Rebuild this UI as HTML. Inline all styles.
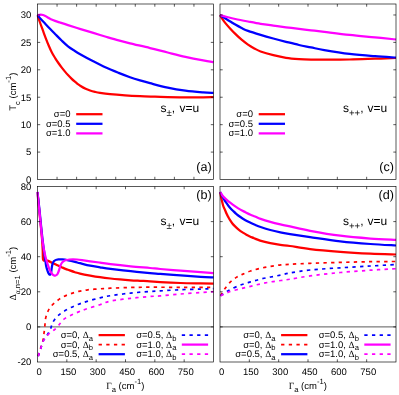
<!DOCTYPE html>
<html><head><meta charset="utf-8"><title>chart</title>
<style>
html,body{margin:0;padding:0;background:#fff;overflow:hidden}
svg{display:block}
text{fill:#000;text-rendering:geometricPrecision;font-family:"Liberation Sans",sans-serif}
</style></head>
<body>
<svg width="399" height="395" viewBox="0 0 399 395">
<rect x="0" y="0" width="399" height="395" fill="#fff"/>
<defs>
<filter id="gs" x="0" y="0" width="399" height="395" filterUnits="userSpaceOnUse" color-interpolation-filters="sRGB"><feColorMatrix type="saturate" values="0"/></filter>
<clipPath id="ca"><rect x="36.5" y="4" width="177.5" height="175.5"/></clipPath>
<clipPath id="cb"><rect x="36.5" y="186.5" width="177.5" height="175.5"/></clipPath>
<clipPath id="cc"><rect x="219" y="4" width="177.5" height="175.5"/></clipPath>
<clipPath id="cd"><rect x="219" y="186.5" width="177.5" height="175.5"/></clipPath>
</defs>
<path d="M37.5,15.1C37.92,16.33 39.13,20.03 40,22.5C40.87,24.97 41.73,27.27 42.7,29.9C43.67,32.53 44.75,35.57 45.8,38.3C46.85,41.03 47.97,43.88 49,46.3C50.03,48.72 50.95,50.8 52,52.8C53.05,54.8 54.23,56.6 55.3,58.3C56.37,60 57.35,61.48 58.4,63C59.45,64.52 60.5,65.97 61.6,67.4C62.7,68.83 63.93,70.33 65,71.6C66.07,72.87 66.92,73.83 68,75C69.08,76.17 70.45,77.57 71.5,78.6C72.55,79.63 73.3,80.33 74.3,81.2C75.3,82.07 76.45,83 77.5,83.8C78.55,84.6 79.25,85.17 80.6,86C81.95,86.83 84.03,88.05 85.6,88.8C87.17,89.55 88.43,89.98 90,90.5C91.57,91.02 93.33,91.5 95,91.9C96.67,92.3 97.5,92.52 100,92.9C102.5,93.28 105.83,93.78 110,94.2C114.17,94.62 120,95.07 125,95.4C130,95.73 135,95.98 140,96.2C145,96.42 150.38,96.55 155,96.7C159.62,96.85 162.63,96.98 167.7,97.1C172.77,97.22 179.48,97.35 185.4,97.4C191.32,97.45 198.52,97.43 203.2,97.4C207.88,97.37 211.78,97.23 213.5,97.2" fill="none" stroke="#ff0000" stroke-width="2.25" stroke-linejoin="round" clip-path="url(#ca)"/>
<path d="M37.5,15.1C38.08,15.78 39.72,17.77 41,19.2C42.28,20.63 43.7,22.1 45.2,23.7C46.7,25.3 48.32,27.05 50,28.8C51.68,30.55 53.37,32.25 55.3,34.2C57.23,36.15 59.48,38.48 61.6,40.5C63.72,42.52 65.88,44.62 68,46.3C70.12,47.98 72.2,49.25 74.3,50.6C76.4,51.95 77.43,52.62 80.6,54.4C83.77,56.18 89.08,59.1 93.3,61.3C97.52,63.5 101.68,65.67 105.9,67.6C110.12,69.53 114.58,71.3 118.6,72.9C122.62,74.5 126.43,75.95 130,77.2C133.57,78.45 136.67,79.4 140,80.4C143.33,81.4 145.38,81.98 150,83.2C154.62,84.42 161.8,86.45 167.7,87.7C173.6,88.95 179.48,89.92 185.4,90.7C191.32,91.48 198.52,92.03 203.2,92.4C207.88,92.77 211.78,92.82 213.5,92.9" fill="none" stroke="#0000ff" stroke-width="2.25" stroke-linejoin="round" clip-path="url(#ca)"/>
<path d="M37.5,15.1C37.75,15.07 38.45,15.02 39,14.95C39.55,14.88 40.13,14.63 40.8,14.65C41.47,14.67 42.17,14.78 43,15.05C43.83,15.32 44.88,15.78 45.8,16.25C46.72,16.72 47.65,17.37 48.5,17.85C49.35,18.33 49.82,18.65 50.9,19.15C51.98,19.65 53.48,20.28 55,20.85C56.52,21.42 57.83,21.83 60,22.55C62.17,23.27 64.57,24.07 68,25.15C71.43,26.23 76.38,27.75 80.6,29.05C84.82,30.35 89.08,31.67 93.3,32.95C97.52,34.23 101.68,35.5 105.9,36.75C110.12,38 114.58,39.34 118.6,40.45C122.62,41.56 124.77,42.14 130,43.41C135.23,44.67 143.72,46.52 150,48.04C156.28,49.55 161.8,51.04 167.7,52.5C173.6,53.96 179.48,55.48 185.4,56.8C191.32,58.12 198.52,59.52 203.2,60.4C207.88,61.28 211.78,61.82 213.5,62.1" fill="none" stroke="#ff00ff" stroke-width="2.25" stroke-linejoin="round" clip-path="url(#ca)"/>
<path d="M220,15.1C220.42,15.78 221.63,17.9 222.5,19.19C223.37,20.48 223.9,21.26 225.2,22.85C226.5,24.44 228.62,26.87 230.3,28.71C231.98,30.55 233.42,32.04 235.3,33.87C237.18,35.7 239.48,37.92 241.6,39.71C243.72,41.5 245.88,43.14 248,44.59C250.12,46.04 252.2,47.26 254.3,48.41C256.4,49.56 257.43,50.36 260.6,51.48C263.77,52.6 269.07,54.09 273.3,55.14C277.53,56.19 281.72,57.14 286,57.8C290.28,58.46 294.83,58.8 299,59.1C303.17,59.4 306.78,59.5 311,59.6C315.22,59.7 317.87,59.72 324.3,59.7C330.73,59.68 341.15,59.67 349.6,59.5C358.05,59.33 367.27,58.95 375,58.7C382.73,58.45 392.5,58.12 396,58" fill="none" stroke="#ff0000" stroke-width="2.25" stroke-linejoin="round" clip-path="url(#cc)"/>
<path d="M220,15.1C220.83,15.63 223.28,17.23 225,18.3C226.72,19.37 228.58,20.45 230.3,21.5C232.02,22.55 233.42,23.52 235.3,24.6C237.18,25.68 239.48,26.95 241.6,28C243.72,29.05 244.83,29.75 248,30.9C251.17,32.05 256.38,33.63 260.6,34.9C264.82,36.17 269.07,37.35 273.3,38.5C277.53,39.65 281.72,40.72 286,41.8C290.28,42.88 294.83,44.07 299,45C303.17,45.93 306.78,46.55 311,47.4C315.22,48.25 317.87,49.02 324.3,50.1C330.73,51.18 341.15,52.88 349.6,53.9C358.05,54.92 367.27,55.6 375,56.2C382.73,56.8 392.5,57.28 396,57.5" fill="none" stroke="#0000ff" stroke-width="2.25" stroke-linejoin="round" clip-path="url(#cc)"/>
<path d="M220,15.1C221.17,15.42 224.45,16.35 227,17C229.55,17.65 231.8,18.25 235.3,19C238.8,19.75 243.78,20.7 248,21.5C252.22,22.3 256.38,23.12 260.6,23.8C264.82,24.48 269.07,25.02 273.3,25.6C277.53,26.18 281.72,26.75 286,27.3C290.28,27.85 294.83,28.4 299,28.9C303.17,29.4 306.78,29.8 311,30.3C315.22,30.8 317.87,31.13 324.3,31.9C330.73,32.67 341.15,33.98 349.6,34.9C358.05,35.82 367.27,36.63 375,37.4C382.73,38.17 392.5,39.15 396,39.5" fill="none" stroke="#ff00ff" stroke-width="2.25" stroke-linejoin="round" clip-path="url(#cc)"/>
<line x1="37.5" y1="326.9" x2="213.5" y2="326.9" stroke="#000" stroke-width="0.65"/>
<line x1="220" y1="326.9" x2="396" y2="326.9" stroke="#000" stroke-width="0.65"/>
<path d="M37.4,192C37.53,193.33 37.9,197 38.2,200C38.5,203 38.87,206.67 39.2,210C39.53,213.33 39.87,216.67 40.2,220C40.53,223.33 40.88,226.67 41.2,230C41.52,233.33 41.85,236.67 42.1,240C42.35,243.33 42.53,246.72 42.7,250C42.87,253.28 42.63,258 43.1,259.7C43.57,261.4 44.65,260 45.5,260.2C46.35,260.4 46.57,260.22 48.2,260.9C49.83,261.58 53.07,263.25 55.3,264.3C57.53,265.35 59.92,266.43 61.6,267.2C63.28,267.97 64.33,268.47 65.4,268.9C66.47,269.33 66.4,269.25 68,269.8C69.6,270.35 73,271.57 75,272.2C77,272.83 77.47,273.03 80,273.6C82.53,274.17 86.87,275 90.2,275.6C93.53,276.2 96.62,276.72 100,277.2C103.38,277.68 107.17,278.13 110.5,278.5C113.83,278.87 116.63,279.11 120,279.4C123.37,279.69 127.37,280.02 130.7,280.26C134.03,280.5 136.78,280.63 140,280.81C143.22,280.99 146.63,281.14 150,281.36C153.37,281.58 155.12,281.85 160.2,282.12C165.28,282.39 173.75,282.79 180.5,283C187.25,283.21 195.2,283.3 200.7,283.4C206.2,283.5 211.37,283.57 213.5,283.6" fill="none" stroke="#ff0000" stroke-width="2.25" stroke-linejoin="round" clip-path="url(#cb)"/>
<path d="M38.2,356.1C38.55,354.92 39.55,351.42 40.3,349C41.05,346.58 42.1,344.1 42.7,341.6C43.3,339.1 43.55,336.52 43.9,334C44.25,331.48 44.53,329 44.8,326.5C45.07,324 45.03,321.42 45.5,319C45.97,316.58 46.63,314.17 47.6,312C48.57,309.83 49.67,307.9 51.3,306C52.93,304.1 55.38,302.15 57.4,300.6C59.42,299.05 61.13,297.87 63.4,296.7C65.67,295.53 68.47,294.48 71,293.6C73.53,292.72 75.8,292.03 78.6,291.4C81.4,290.77 84.23,290.23 87.8,289.8C91.37,289.37 96.22,289.07 100,288.8C103.78,288.53 105.38,288.42 110.5,288.2C115.62,287.98 124.12,287.64 130.7,287.47C137.28,287.3 141.7,287.21 150,287.19C158.3,287.17 169.92,287.32 180.5,287.35C191.08,287.38 208,287.35 213.5,287.35" fill="none" stroke="#ff0000" stroke-width="1.7" stroke-linejoin="round" stroke-dasharray="3.3 4.28" clip-path="url(#cb)"/>
<path d="M37.4,192C37.57,193.33 38.05,197 38.4,200C38.75,203 39.15,206.67 39.5,210C39.85,213.33 40.17,216.67 40.5,220C40.83,223.33 41.15,226.67 41.5,230C41.85,233.33 42.2,236.67 42.6,240C43,243.33 43.45,246.67 43.9,250C44.35,253.33 44.92,257.28 45.3,260C45.68,262.72 45.8,264.4 46.2,266.3C46.6,268.2 47.23,270.12 47.7,271.4C48.17,272.68 48.58,273.45 49,274C49.42,274.55 49.87,274.83 50.2,274.7C50.53,274.57 50.78,274.02 51,273.2C51.22,272.38 51.33,270.97 51.5,269.8C51.67,268.63 51.8,267.28 52,266.2C52.2,265.12 52.43,264.07 52.7,263.3C52.97,262.53 53.27,262.05 53.6,261.6C53.93,261.15 54.22,260.9 54.7,260.6C55.18,260.3 55.9,260 56.5,259.8C57.1,259.6 57.33,259.47 58.3,259.4C59.27,259.33 60.62,259.23 62.3,259.4C63.98,259.57 66.28,259.98 68.4,260.4C70.52,260.82 73.07,261.43 75,261.9C76.93,262.37 77.47,262.57 80,263.2C82.53,263.83 86.87,265.02 90.2,265.7C93.53,266.38 96.62,266.78 100,267.3C103.38,267.82 105.38,268.18 110.5,268.82C115.62,269.46 124.12,270.44 130.7,271.15C137.28,271.85 145.08,272.6 150,273.05C154.92,273.5 155.12,273.45 160.2,273.85C165.28,274.25 173.75,274.95 180.5,275.45C187.25,275.95 195.2,276.52 200.7,276.85C206.2,277.18 211.37,277.35 213.5,277.45" fill="none" stroke="#0000ff" stroke-width="2.25" stroke-linejoin="round" clip-path="url(#cb)"/>
<path d="M38.2,356.1C38.63,354.83 39.95,351.02 40.8,348.5C41.65,345.98 42.25,343.2 43.3,341C44.35,338.8 45.9,337.3 47.1,335.3C48.3,333.3 49.55,331.15 50.5,329C51.45,326.85 51.65,324.5 52.8,322.4C53.95,320.3 55.63,318.18 57.4,316.4C59.17,314.62 61.13,313.18 63.4,311.7C65.67,310.22 68.47,308.75 71,307.5C73.53,306.25 75.93,305.22 78.6,304.2C81.27,303.18 83.43,302.47 87,301.4C90.57,300.33 96.08,298.75 100,297.8C103.92,296.85 105.38,296.48 110.5,295.7C115.62,294.92 124.12,293.81 130.7,293.1C137.28,292.4 145.08,291.84 150,291.47C154.92,291.1 155.12,291.19 160.2,290.9C165.28,290.6 173.75,290 180.5,289.7C187.25,289.4 195.2,289.27 200.7,289.1C206.2,288.93 211.37,288.77 213.5,288.7" fill="none" stroke="#0000ff" stroke-width="1.7" stroke-linejoin="round" stroke-dasharray="3.3 4.28" clip-path="url(#cb)"/>
<path d="M37.4,192C37.53,193.33 37.88,197 38.2,200C38.52,203 38.95,206.67 39.3,210C39.65,213.33 39.97,216.67 40.3,220C40.63,223.33 40.95,226.67 41.3,230C41.65,233.33 41.95,236.67 42.4,240C42.85,243.33 43.35,246.67 44,250C44.65,253.33 45.45,256.93 46.3,260C47.15,263.07 48.37,266.43 49.1,268.4C49.83,270.37 50.18,270.88 50.7,271.8C51.22,272.72 51.7,273.33 52.2,273.9C52.7,274.47 53.18,274.92 53.7,275.2C54.22,275.48 54.82,275.63 55.3,275.6C55.78,275.57 56.18,275.35 56.6,275C57.02,274.65 57.47,274.08 57.8,273.5C58.13,272.92 58.35,272.18 58.6,271.5C58.85,270.82 59.07,270.15 59.3,269.4C59.53,268.65 59.75,267.77 60,267C60.25,266.23 60.5,265.47 60.8,264.8C61.1,264.13 61.47,263.5 61.8,263C62.13,262.5 62.2,262.25 62.8,261.8C63.4,261.35 64.3,260.68 65.4,260.3C66.5,259.92 68.13,259.67 69.4,259.5C70.67,259.33 71.73,259.3 73,259.3C74.27,259.3 75.5,259.37 77,259.5C78.5,259.63 79.8,259.8 82,260.1C84.2,260.4 87.2,260.88 90.2,261.3C93.2,261.72 96.62,262.13 100,262.6C103.38,263.07 105.38,263.49 110.5,264.11C115.62,264.73 124.12,265.66 130.7,266.31C137.28,266.96 145.08,267.55 150,268C154.92,268.45 155.12,268.55 160.2,269C165.28,269.45 173.75,270.18 180.5,270.7C187.25,271.22 195.2,271.7 200.7,272.1C206.2,272.5 211.37,272.93 213.5,273.1" fill="none" stroke="#ff00ff" stroke-width="2.25" stroke-linejoin="round" clip-path="url(#cb)"/>
<path d="M38.2,356.1C38.63,354.83 39.95,351.02 40.8,348.5C41.65,345.98 42.03,343.35 43.3,341C44.57,338.65 46.6,336.23 48.4,334.4C50.2,332.57 52.4,331.5 54.1,330C55.8,328.5 57.05,327.13 58.6,325.4C60.15,323.67 61.33,321.28 63.4,319.6C65.47,317.92 68.47,316.58 71,315.3C73.53,314.02 76.07,312.95 78.6,311.9C81.13,310.85 82.63,310.2 86.2,309C89.77,307.8 95.95,306.02 100,304.7C104.05,303.38 105.38,302.17 110.5,301.1C115.62,300.03 124.12,299.07 130.7,298.3C137.28,297.53 145.08,296.9 150,296.5C154.92,296.1 155.12,296.32 160.2,295.9C165.28,295.48 173.75,294.55 180.5,294C187.25,293.45 195.2,293 200.7,292.6C206.2,292.2 211.37,291.77 213.5,291.6" fill="none" stroke="#ff00ff" stroke-width="1.7" stroke-linejoin="round" stroke-dasharray="3.3 4.28" clip-path="url(#cb)"/>
<path d="M220.1,192.1C220.25,192.83 220.7,195.05 221,196.5C221.3,197.95 221.58,199.43 221.9,200.8C222.22,202.17 222.57,203.57 222.9,204.7C223.23,205.83 223.55,206.72 223.9,207.6C224.25,208.48 224.55,208.97 225,210C225.45,211.03 226.07,212.65 226.6,213.8C227.13,214.95 227.7,215.97 228.2,216.9C228.7,217.83 228.93,218.35 229.6,219.4C230.27,220.45 231.37,222.12 232.2,223.2C233.03,224.28 233.77,225.03 234.6,225.9C235.43,226.77 236.27,227.58 237.2,228.4C238.13,229.22 239.17,230.05 240.2,230.8C241.23,231.55 242.37,232.25 243.4,232.9C244.43,233.55 245.4,234.15 246.4,234.7C247.4,235.25 248.47,235.75 249.4,236.2C250.33,236.65 251.07,237 252,237.4C252.93,237.8 253.65,238.07 255,238.6C256.35,239.13 257.55,239.85 260.1,240.6C262.65,241.35 266.92,242.4 270.3,243.1C273.68,243.8 277.12,244.32 280.4,244.8C283.68,245.28 285.05,245.28 290,246C294.95,246.72 301.72,248.13 310.1,249.1C318.48,250.07 330.25,251.05 340.3,251.8C350.35,252.55 361.12,253.15 370.4,253.6C379.68,254.05 391.73,254.35 396,254.5" fill="none" stroke="#ff0000" stroke-width="2.25" stroke-linejoin="round" clip-path="url(#cd)"/>
<path d="M220.5,295.7C221.12,294.68 222.58,291.87 224.2,289.6C225.82,287.33 228.18,284.13 230.2,282.1C232.22,280.07 234.27,278.68 236.3,277.4C238.33,276.12 240.03,275.47 242.4,274.4C244.77,273.33 247.47,272.02 250.5,271C253.53,269.98 257.23,269.08 260.6,268.3C263.97,267.52 267.32,266.87 270.7,266.3C274.08,265.73 277.68,265.23 280.9,264.9C284.12,264.57 285.13,264.57 290,264.3C294.87,264.03 301.72,263.62 310.1,263.3C318.48,262.98 330.25,262.67 340.3,262.4C350.35,262.13 361.12,261.85 370.4,261.7C379.68,261.55 391.73,261.53 396,261.5" fill="none" stroke="#ff0000" stroke-width="1.7" stroke-linejoin="round" stroke-dasharray="3.3 4.28" clip-path="url(#cd)"/>
<path d="M220.1,192.1C220.42,192.7 221.32,194.45 222,195.7C222.68,196.95 223.53,198.48 224.2,199.6C224.87,200.72 225.33,201.42 226,202.4C226.67,203.38 227.5,204.58 228.2,205.5C228.9,206.42 229.37,206.98 230.2,207.9C231.03,208.82 232.2,210.02 233.2,211C234.2,211.98 235,212.8 236.2,213.8C237.4,214.8 238.87,215.93 240.4,217C241.93,218.07 243.72,219.23 245.4,220.2C247.08,221.17 248.9,222.03 250.5,222.8C252.1,223.57 253.32,224.1 255,224.8C256.68,225.5 258.05,226.13 260.6,227C263.15,227.87 267,229.12 270.3,230C273.6,230.88 277.12,231.62 280.4,232.3C283.68,232.98 285.05,233.3 290,234.1C294.95,234.9 301.72,235.9 310.1,237.1C318.48,238.3 330.25,240.15 340.3,241.3C350.35,242.45 361.12,243.3 370.4,244C379.68,244.7 391.73,245.25 396,245.5" fill="none" stroke="#0000ff" stroke-width="2.25" stroke-linejoin="round" clip-path="url(#cd)"/>
<path d="M220.5,295.7C221.25,295.22 223.38,293.82 225,292.8C226.62,291.78 227.63,290.88 230.2,289.6C232.77,288.32 237.02,286.38 240.4,285.1C243.78,283.82 247.13,282.9 250.5,281.9C253.87,280.9 257.23,279.92 260.6,279.1C263.97,278.28 267.32,277.68 270.7,277C274.08,276.32 277.68,275.67 280.9,275C284.12,274.33 285.13,273.84 290,273C294.87,272.16 301.72,270.85 310.1,269.98C318.48,269.11 330.25,268.46 340.3,267.8C350.35,267.14 361.12,266.55 370.4,266C379.68,265.45 391.73,264.75 396,264.5" fill="none" stroke="#0000ff" stroke-width="1.7" stroke-linejoin="round" stroke-dasharray="3.3 4.28" clip-path="url(#cd)"/>
<path d="M220.1,192.1C220.58,192.78 221.98,195 223,196.2C224.02,197.4 225,198.22 226.2,199.3C227.4,200.38 228.68,201.52 230.2,202.7C231.72,203.88 233.6,205.25 235.3,206.4C237,207.55 238.72,208.63 240.4,209.6C242.08,210.57 243.72,211.35 245.4,212.2C247.08,213.05 248.9,213.98 250.5,214.7C252.1,215.42 253.32,215.8 255,216.5C256.68,217.2 258.05,218 260.6,218.9C263.15,219.8 267,220.98 270.3,221.9C273.6,222.82 277.12,223.65 280.4,224.4C283.68,225.15 285.05,225.33 290,226.4C294.95,227.47 301.72,229.25 310.1,230.8C318.48,232.35 330.25,234.41 340.3,235.7C350.35,236.99 361.12,237.84 370.4,238.53C379.68,239.22 391.73,239.61 396,239.83" fill="none" stroke="#ff00ff" stroke-width="2.25" stroke-linejoin="round" clip-path="url(#cd)"/>
<path d="M220.5,295.71C221.25,295.38 223.38,294.45 225,293.75C226.62,293.05 227.63,292.33 230.2,291.51C232.77,290.69 237.02,289.67 240.4,288.8C243.78,287.93 247.13,287.12 250.5,286.3C253.87,285.48 257.23,284.63 260.6,283.9C263.97,283.17 267.32,282.47 270.7,281.9C274.08,281.33 277.68,280.95 280.9,280.5C284.12,280.05 285.13,279.96 290,279.2C294.87,278.44 301.72,277.05 310.1,275.93C318.48,274.81 330.25,273.45 340.3,272.5C350.35,271.55 361.12,270.83 370.4,270.2C379.68,269.57 391.73,268.95 396,268.7" fill="none" stroke="#ff00ff" stroke-width="1.7" stroke-linejoin="round" stroke-dasharray="3.3 4.28" clip-path="url(#cd)"/>
<g shape-rendering="auto">
<rect x="37.5" y="4" width="176" height="175.5" fill="none" stroke="#000" stroke-width="0.65"/>
<rect x="220" y="4" width="176" height="175.5" fill="none" stroke="#000" stroke-width="0.65"/>
<rect x="37.5" y="186.5" width="176" height="175.5" fill="none" stroke="#000" stroke-width="0.65"/>
<rect x="220" y="186.5" width="176" height="175.5" fill="none" stroke="#000" stroke-width="0.65"/>
<line x1="57.06" y1="179.5" x2="57.06" y2="176.8" stroke="#000" stroke-width="0.65"/>
<line x1="57.06" y1="4" x2="57.06" y2="6.7" stroke="#000" stroke-width="0.65"/>
<line x1="76.61" y1="179.5" x2="76.61" y2="176.8" stroke="#000" stroke-width="0.65"/>
<line x1="76.61" y1="4" x2="76.61" y2="6.7" stroke="#000" stroke-width="0.65"/>
<line x1="96.17" y1="179.5" x2="96.17" y2="176.8" stroke="#000" stroke-width="0.65"/>
<line x1="96.17" y1="4" x2="96.17" y2="6.7" stroke="#000" stroke-width="0.65"/>
<line x1="115.72" y1="179.5" x2="115.72" y2="176.8" stroke="#000" stroke-width="0.65"/>
<line x1="115.72" y1="4" x2="115.72" y2="6.7" stroke="#000" stroke-width="0.65"/>
<line x1="135.28" y1="179.5" x2="135.28" y2="176.8" stroke="#000" stroke-width="0.65"/>
<line x1="135.28" y1="4" x2="135.28" y2="6.7" stroke="#000" stroke-width="0.65"/>
<line x1="154.83" y1="179.5" x2="154.83" y2="176.8" stroke="#000" stroke-width="0.65"/>
<line x1="154.83" y1="4" x2="154.83" y2="6.7" stroke="#000" stroke-width="0.65"/>
<line x1="174.39" y1="179.5" x2="174.39" y2="176.8" stroke="#000" stroke-width="0.65"/>
<line x1="174.39" y1="4" x2="174.39" y2="6.7" stroke="#000" stroke-width="0.65"/>
<line x1="193.94" y1="179.5" x2="193.94" y2="176.8" stroke="#000" stroke-width="0.65"/>
<line x1="193.94" y1="4" x2="193.94" y2="6.7" stroke="#000" stroke-width="0.65"/>
<line x1="249.33" y1="179.5" x2="249.33" y2="176.8" stroke="#000" stroke-width="0.65"/>
<line x1="249.33" y1="4" x2="249.33" y2="6.7" stroke="#000" stroke-width="0.65"/>
<line x1="278.67" y1="179.5" x2="278.67" y2="176.8" stroke="#000" stroke-width="0.65"/>
<line x1="278.67" y1="4" x2="278.67" y2="6.7" stroke="#000" stroke-width="0.65"/>
<line x1="308" y1="179.5" x2="308" y2="176.8" stroke="#000" stroke-width="0.65"/>
<line x1="308" y1="4" x2="308" y2="6.7" stroke="#000" stroke-width="0.65"/>
<line x1="337.33" y1="179.5" x2="337.33" y2="176.8" stroke="#000" stroke-width="0.65"/>
<line x1="337.33" y1="4" x2="337.33" y2="6.7" stroke="#000" stroke-width="0.65"/>
<line x1="366.67" y1="179.5" x2="366.67" y2="176.8" stroke="#000" stroke-width="0.65"/>
<line x1="366.67" y1="4" x2="366.67" y2="6.7" stroke="#000" stroke-width="0.65"/>
<line x1="66.83" y1="362" x2="66.83" y2="359.3" stroke="#000" stroke-width="0.65"/>
<line x1="66.83" y1="186.5" x2="66.83" y2="189.2" stroke="#000" stroke-width="0.65"/>
<line x1="96.17" y1="362" x2="96.17" y2="359.3" stroke="#000" stroke-width="0.65"/>
<line x1="96.17" y1="186.5" x2="96.17" y2="189.2" stroke="#000" stroke-width="0.65"/>
<line x1="125.5" y1="362" x2="125.5" y2="359.3" stroke="#000" stroke-width="0.65"/>
<line x1="125.5" y1="186.5" x2="125.5" y2="189.2" stroke="#000" stroke-width="0.65"/>
<line x1="154.83" y1="362" x2="154.83" y2="359.3" stroke="#000" stroke-width="0.65"/>
<line x1="154.83" y1="186.5" x2="154.83" y2="189.2" stroke="#000" stroke-width="0.65"/>
<line x1="184.17" y1="362" x2="184.17" y2="359.3" stroke="#000" stroke-width="0.65"/>
<line x1="184.17" y1="186.5" x2="184.17" y2="189.2" stroke="#000" stroke-width="0.65"/>
<line x1="249.33" y1="362" x2="249.33" y2="359.3" stroke="#000" stroke-width="0.65"/>
<line x1="249.33" y1="186.5" x2="249.33" y2="189.2" stroke="#000" stroke-width="0.65"/>
<line x1="278.67" y1="362" x2="278.67" y2="359.3" stroke="#000" stroke-width="0.65"/>
<line x1="278.67" y1="186.5" x2="278.67" y2="189.2" stroke="#000" stroke-width="0.65"/>
<line x1="308" y1="362" x2="308" y2="359.3" stroke="#000" stroke-width="0.65"/>
<line x1="308" y1="186.5" x2="308" y2="189.2" stroke="#000" stroke-width="0.65"/>
<line x1="337.33" y1="362" x2="337.33" y2="359.3" stroke="#000" stroke-width="0.65"/>
<line x1="337.33" y1="186.5" x2="337.33" y2="189.2" stroke="#000" stroke-width="0.65"/>
<line x1="366.67" y1="362" x2="366.67" y2="359.3" stroke="#000" stroke-width="0.65"/>
<line x1="366.67" y1="186.5" x2="366.67" y2="189.2" stroke="#000" stroke-width="0.65"/>
<line x1="37.5" y1="152.08" x2="40.2" y2="152.08" stroke="#000" stroke-width="0.65"/>
<line x1="213.5" y1="152.08" x2="210.8" y2="152.08" stroke="#000" stroke-width="0.65"/>
<line x1="37.5" y1="124.66" x2="40.2" y2="124.66" stroke="#000" stroke-width="0.65"/>
<line x1="213.5" y1="124.66" x2="210.8" y2="124.66" stroke="#000" stroke-width="0.65"/>
<line x1="37.5" y1="97.23" x2="40.2" y2="97.23" stroke="#000" stroke-width="0.65"/>
<line x1="213.5" y1="97.23" x2="210.8" y2="97.23" stroke="#000" stroke-width="0.65"/>
<line x1="37.5" y1="69.81" x2="40.2" y2="69.81" stroke="#000" stroke-width="0.65"/>
<line x1="213.5" y1="69.81" x2="210.8" y2="69.81" stroke="#000" stroke-width="0.65"/>
<line x1="37.5" y1="42.39" x2="40.2" y2="42.39" stroke="#000" stroke-width="0.65"/>
<line x1="213.5" y1="42.39" x2="210.8" y2="42.39" stroke="#000" stroke-width="0.65"/>
<line x1="37.5" y1="14.97" x2="40.2" y2="14.97" stroke="#000" stroke-width="0.65"/>
<line x1="213.5" y1="14.97" x2="210.8" y2="14.97" stroke="#000" stroke-width="0.65"/>
<line x1="220" y1="152.08" x2="222.7" y2="152.08" stroke="#000" stroke-width="0.65"/>
<line x1="396" y1="152.08" x2="393.3" y2="152.08" stroke="#000" stroke-width="0.65"/>
<line x1="220" y1="124.66" x2="222.7" y2="124.66" stroke="#000" stroke-width="0.65"/>
<line x1="396" y1="124.66" x2="393.3" y2="124.66" stroke="#000" stroke-width="0.65"/>
<line x1="220" y1="97.23" x2="222.7" y2="97.23" stroke="#000" stroke-width="0.65"/>
<line x1="396" y1="97.23" x2="393.3" y2="97.23" stroke="#000" stroke-width="0.65"/>
<line x1="220" y1="69.81" x2="222.7" y2="69.81" stroke="#000" stroke-width="0.65"/>
<line x1="396" y1="69.81" x2="393.3" y2="69.81" stroke="#000" stroke-width="0.65"/>
<line x1="220" y1="42.39" x2="222.7" y2="42.39" stroke="#000" stroke-width="0.65"/>
<line x1="396" y1="42.39" x2="393.3" y2="42.39" stroke="#000" stroke-width="0.65"/>
<line x1="220" y1="14.97" x2="222.7" y2="14.97" stroke="#000" stroke-width="0.65"/>
<line x1="396" y1="14.97" x2="393.3" y2="14.97" stroke="#000" stroke-width="0.65"/>
<line x1="37.5" y1="326.9" x2="40.2" y2="326.9" stroke="#000" stroke-width="0.65"/>
<line x1="213.5" y1="326.9" x2="210.8" y2="326.9" stroke="#000" stroke-width="0.65"/>
<line x1="37.5" y1="291.8" x2="40.2" y2="291.8" stroke="#000" stroke-width="0.65"/>
<line x1="213.5" y1="291.8" x2="210.8" y2="291.8" stroke="#000" stroke-width="0.65"/>
<line x1="37.5" y1="256.7" x2="40.2" y2="256.7" stroke="#000" stroke-width="0.65"/>
<line x1="213.5" y1="256.7" x2="210.8" y2="256.7" stroke="#000" stroke-width="0.65"/>
<line x1="37.5" y1="221.6" x2="40.2" y2="221.6" stroke="#000" stroke-width="0.65"/>
<line x1="213.5" y1="221.6" x2="210.8" y2="221.6" stroke="#000" stroke-width="0.65"/>
<line x1="220" y1="326.9" x2="222.7" y2="326.9" stroke="#000" stroke-width="0.65"/>
<line x1="396" y1="326.9" x2="393.3" y2="326.9" stroke="#000" stroke-width="0.65"/>
<line x1="220" y1="291.8" x2="222.7" y2="291.8" stroke="#000" stroke-width="0.65"/>
<line x1="396" y1="291.8" x2="393.3" y2="291.8" stroke="#000" stroke-width="0.65"/>
<line x1="220" y1="256.7" x2="222.7" y2="256.7" stroke="#000" stroke-width="0.65"/>
<line x1="396" y1="256.7" x2="393.3" y2="256.7" stroke="#000" stroke-width="0.65"/>
<line x1="220" y1="221.6" x2="222.7" y2="221.6" stroke="#000" stroke-width="0.65"/>
<line x1="396" y1="221.6" x2="393.3" y2="221.6" stroke="#000" stroke-width="0.65"/>
</g>
<g filter="url(#gs)">
<text x="31.3" y="182.8" font-size="9.5" text-anchor="end" font-family="Liberation Sans">0</text>
<text x="31.3" y="155.38" font-size="9.5" text-anchor="end" font-family="Liberation Sans">5</text>
<text x="31.3" y="127.96" font-size="9.5" text-anchor="end" font-family="Liberation Sans">10</text>
<text x="31.3" y="100.53" font-size="9.5" text-anchor="end" font-family="Liberation Sans">15</text>
<text x="31.3" y="73.11" font-size="9.5" text-anchor="end" font-family="Liberation Sans">20</text>
<text x="31.3" y="45.69" font-size="9.5" text-anchor="end" font-family="Liberation Sans">25</text>
<text x="31.3" y="18.27" font-size="9.5" text-anchor="end" font-family="Liberation Sans">30</text>
<text x="31.3" y="365.3" font-size="9.5" text-anchor="end" font-family="Liberation Sans">-20</text>
<text x="31.3" y="330.2" font-size="9.5" text-anchor="end" font-family="Liberation Sans">0</text>
<text x="31.3" y="295.1" font-size="9.5" text-anchor="end" font-family="Liberation Sans">20</text>
<text x="31.3" y="260" font-size="9.5" text-anchor="end" font-family="Liberation Sans">40</text>
<text x="31.3" y="224.9" font-size="9.5" text-anchor="end" font-family="Liberation Sans">60</text>
<text x="31.3" y="189.8" font-size="9.5" text-anchor="end" font-family="Liberation Sans">80</text>
<text x="39.1" y="375" font-size="9.5" text-anchor="middle" font-family="Liberation Sans">0</text>
<text x="68.43" y="375" font-size="9.5" text-anchor="middle" font-family="Liberation Sans">150</text>
<text x="97.77" y="375" font-size="9.5" text-anchor="middle" font-family="Liberation Sans">300</text>
<text x="127.1" y="375" font-size="9.5" text-anchor="middle" font-family="Liberation Sans">450</text>
<text x="156.43" y="375" font-size="9.5" text-anchor="middle" font-family="Liberation Sans">600</text>
<text x="185.77" y="375" font-size="9.5" text-anchor="middle" font-family="Liberation Sans">750</text>
<text x="221.6" y="375" font-size="9.5" text-anchor="middle" font-family="Liberation Sans">0</text>
<text x="250.93" y="375" font-size="9.5" text-anchor="middle" font-family="Liberation Sans">150</text>
<text x="280.27" y="375" font-size="9.5" text-anchor="middle" font-family="Liberation Sans">300</text>
<text x="309.6" y="375" font-size="9.5" text-anchor="middle" font-family="Liberation Sans">450</text>
<text x="338.93" y="375" font-size="9.5" text-anchor="middle" font-family="Liberation Sans">600</text>
<text x="368.27" y="375" font-size="9.5" text-anchor="middle" font-family="Liberation Sans">750</text>
<text x="125.3" y="389.1" font-size="9.5" text-anchor="middle" font-family="Liberation Sans"><tspan font-family="Liberation Serif">&#915;</tspan><tspan font-size="7.6" dy="3.2">a</tspan><tspan dy="-3.2"> (cm</tspan><tspan font-size="7.6" dy="-4.7">-1</tspan><tspan dy="4.7">)</tspan></text>
<text x="307.8" y="389.1" font-size="9.5" text-anchor="middle" font-family="Liberation Sans"><tspan font-family="Liberation Serif">&#915;</tspan><tspan font-size="7.6" dy="3.2">a</tspan><tspan dy="-3.2"> (cm</tspan><tspan font-size="7.6" dy="-4.7">-1</tspan><tspan dy="4.7">)</tspan></text>
<text x="0" y="0" font-size="9.5" text-anchor="middle" font-family="Liberation Sans" transform="translate(15.9,91.7) rotate(-90)">T<tspan font-size="7.6" dy="4">c</tspan><tspan dy="-4"> (cm</tspan><tspan font-size="7.6" dy="-5.1">-1</tspan><tspan dy="5.1">)</tspan></text>
<text x="0" y="0" font-size="9.5" text-anchor="middle" font-family="Liberation Sans" transform="translate(15.5,273.6) rotate(-90)"><tspan font-family="Liberation Serif">&#916;</tspan><tspan font-size="7.6" dy="4"><tspan font-family="Liberation Serif">&#945;</tspan>,n=1</tspan><tspan dy="-4"> (cm</tspan><tspan font-size="7.6" dy="-4.7">-1</tspan><tspan dy="4.7">)</tspan></text>
<text x="70.5" y="117.1" font-size="9.5" text-anchor="end" font-family="Liberation Sans">&#963;=0</text>
<text x="70.5" y="126.7" font-size="9.5" text-anchor="end" font-family="Liberation Sans">&#963;=0.5</text>
<text x="70.5" y="136.3" font-size="9.5" text-anchor="end" font-family="Liberation Sans">&#963;=1.0</text>
<text x="253" y="117.1" font-size="9.5" text-anchor="end" font-family="Liberation Sans">&#963;=0</text>
<text x="253" y="126.7" font-size="9.5" text-anchor="end" font-family="Liberation Sans">&#963;=0.5</text>
<text x="253" y="136.3" font-size="9.5" text-anchor="end" font-family="Liberation Sans">&#963;=1.0</text>
<text x="93" y="338" font-size="9.5" text-anchor="end" font-family="Liberation Sans">&#963;=0, <tspan font-family="Liberation Serif">&#916;</tspan><tspan font-size="7.6" dy="2.8">a</tspan></text>
<text x="93" y="347.5" font-size="9.5" text-anchor="end" font-family="Liberation Sans">&#963;=0, <tspan font-family="Liberation Serif">&#916;</tspan><tspan font-size="7.6" dy="2.8">b</tspan></text>
<text x="93" y="357.1" font-size="9.5" text-anchor="end" font-family="Liberation Sans">&#963;=0.5, <tspan font-family="Liberation Serif">&#916;</tspan><tspan font-size="7.6" dy="2.8">a</tspan></text>
<text x="176.4" y="338" font-size="9.5" text-anchor="end" font-family="Liberation Sans">&#963;=0.5, <tspan font-family="Liberation Serif">&#916;</tspan><tspan font-size="7.6" dy="2.8">b</tspan></text>
<text x="176.4" y="347.5" font-size="9.5" text-anchor="end" font-family="Liberation Sans">&#963;=1.0, <tspan font-family="Liberation Serif">&#916;</tspan><tspan font-size="7.6" dy="2.8">a</tspan></text>
<text x="176.4" y="357.1" font-size="9.5" text-anchor="end" font-family="Liberation Sans">&#963;=1.0, <tspan font-family="Liberation Serif">&#916;</tspan><tspan font-size="7.6" dy="2.8">b</tspan></text>
<text x="275.5" y="338" font-size="9.5" text-anchor="end" font-family="Liberation Sans">&#963;=0, <tspan font-family="Liberation Serif">&#916;</tspan><tspan font-size="7.6" dy="2.8">a</tspan></text>
<text x="275.5" y="347.5" font-size="9.5" text-anchor="end" font-family="Liberation Sans">&#963;=0, <tspan font-family="Liberation Serif">&#916;</tspan><tspan font-size="7.6" dy="2.8">b</tspan></text>
<text x="275.5" y="357.1" font-size="9.5" text-anchor="end" font-family="Liberation Sans">&#963;=0.5, <tspan font-family="Liberation Serif">&#916;</tspan><tspan font-size="7.6" dy="2.8">a</tspan></text>
<text x="358.9" y="338" font-size="9.5" text-anchor="end" font-family="Liberation Sans">&#963;=0.5, <tspan font-family="Liberation Serif">&#916;</tspan><tspan font-size="7.6" dy="2.8">b</tspan></text>
<text x="358.9" y="347.5" font-size="9.5" text-anchor="end" font-family="Liberation Sans">&#963;=1.0, <tspan font-family="Liberation Serif">&#916;</tspan><tspan font-size="7.6" dy="2.8">a</tspan></text>
<text x="358.9" y="357.1" font-size="9.5" text-anchor="end" font-family="Liberation Sans">&#963;=1.0, <tspan font-family="Liberation Serif">&#916;</tspan><tspan font-size="7.6" dy="2.8">b</tspan></text>
<text x="160.6" y="111.6" font-size="12" text-anchor="start" font-family="Liberation Sans">s<tspan font-size="9.6" dy="4.4">&#177;</tspan><tspan dy="-4.4">,</tspan><tspan dx="1"> v=u</tspan></text>
<text x="343" y="111.6" font-size="12" text-anchor="start" font-family="Liberation Sans">s<tspan font-size="9.6" dy="4.2">++</tspan><tspan dy="-4.2">,</tspan><tspan dx="0.6"> v=u</tspan></text>
<text x="160.6" y="224.7" font-size="12" text-anchor="start" font-family="Liberation Sans">s<tspan font-size="9.6" dy="4.4">&#177;</tspan><tspan dy="-4.4">,</tspan><tspan dx="1"> v=u</tspan></text>
<text x="343" y="224.7" font-size="12" text-anchor="start" font-family="Liberation Sans">s<tspan font-size="9.6" dy="4.2">++</tspan><tspan dy="-4.2">,</tspan><tspan dx="0.6"> v=u</tspan></text>
<text x="211.7" y="171.3" font-size="12.6" text-anchor="end" font-family="Liberation Sans">(a)</text>
<text x="211.7" y="199.4" font-size="12.6" text-anchor="end" font-family="Liberation Sans">(b)</text>
<text x="393.9" y="171.3" font-size="12.6" text-anchor="end" font-family="Liberation Sans">(c)</text>
<text x="393.9" y="199.4" font-size="12.6" text-anchor="end" font-family="Liberation Sans">(d)</text>
</g>
<line x1="76.2" y1="114.2" x2="102.5" y2="114.2" stroke="#ff0000" stroke-width="2.25"/>
<line x1="76.2" y1="123.8" x2="102.5" y2="123.8" stroke="#0000ff" stroke-width="2.25"/>
<line x1="76.2" y1="133.4" x2="102.5" y2="133.4" stroke="#ff00ff" stroke-width="2.25"/>
<line x1="258.7" y1="114.2" x2="285" y2="114.2" stroke="#ff0000" stroke-width="2.25"/>
<line x1="258.7" y1="123.8" x2="285" y2="123.8" stroke="#0000ff" stroke-width="2.25"/>
<line x1="258.7" y1="133.4" x2="285" y2="133.4" stroke="#ff00ff" stroke-width="2.25"/>
<line x1="98.6" y1="335.1" x2="124.9" y2="335.1" stroke="#ff0000" stroke-width="2.25"/>
<line x1="98.6" y1="344.6" x2="124.9" y2="344.6" stroke="#ff0000" stroke-width="1.7" stroke-dasharray="3.3 4.37"/>
<line x1="98.6" y1="354.2" x2="124.9" y2="354.2" stroke="#0000ff" stroke-width="2.25"/>
<line x1="181.8" y1="335.1" x2="208.1" y2="335.1" stroke="#0000ff" stroke-width="1.7" stroke-dasharray="3.3 4.37"/>
<line x1="181.8" y1="344.6" x2="208.1" y2="344.6" stroke="#ff00ff" stroke-width="2.25"/>
<line x1="181.8" y1="354.2" x2="208.1" y2="354.2" stroke="#ff00ff" stroke-width="1.7" stroke-dasharray="3.3 4.37"/>
<line x1="281.1" y1="335.1" x2="307.4" y2="335.1" stroke="#ff0000" stroke-width="2.25"/>
<line x1="281.1" y1="344.6" x2="307.4" y2="344.6" stroke="#ff0000" stroke-width="1.7" stroke-dasharray="3.3 4.37"/>
<line x1="281.1" y1="354.2" x2="307.4" y2="354.2" stroke="#0000ff" stroke-width="2.25"/>
<line x1="364.3" y1="335.1" x2="390.6" y2="335.1" stroke="#0000ff" stroke-width="1.7" stroke-dasharray="3.3 4.37"/>
<line x1="364.3" y1="344.6" x2="390.6" y2="344.6" stroke="#ff00ff" stroke-width="2.25"/>
<line x1="364.3" y1="354.2" x2="390.6" y2="354.2" stroke="#ff00ff" stroke-width="1.7" stroke-dasharray="3.3 4.37"/>
</svg>
</body></html>
